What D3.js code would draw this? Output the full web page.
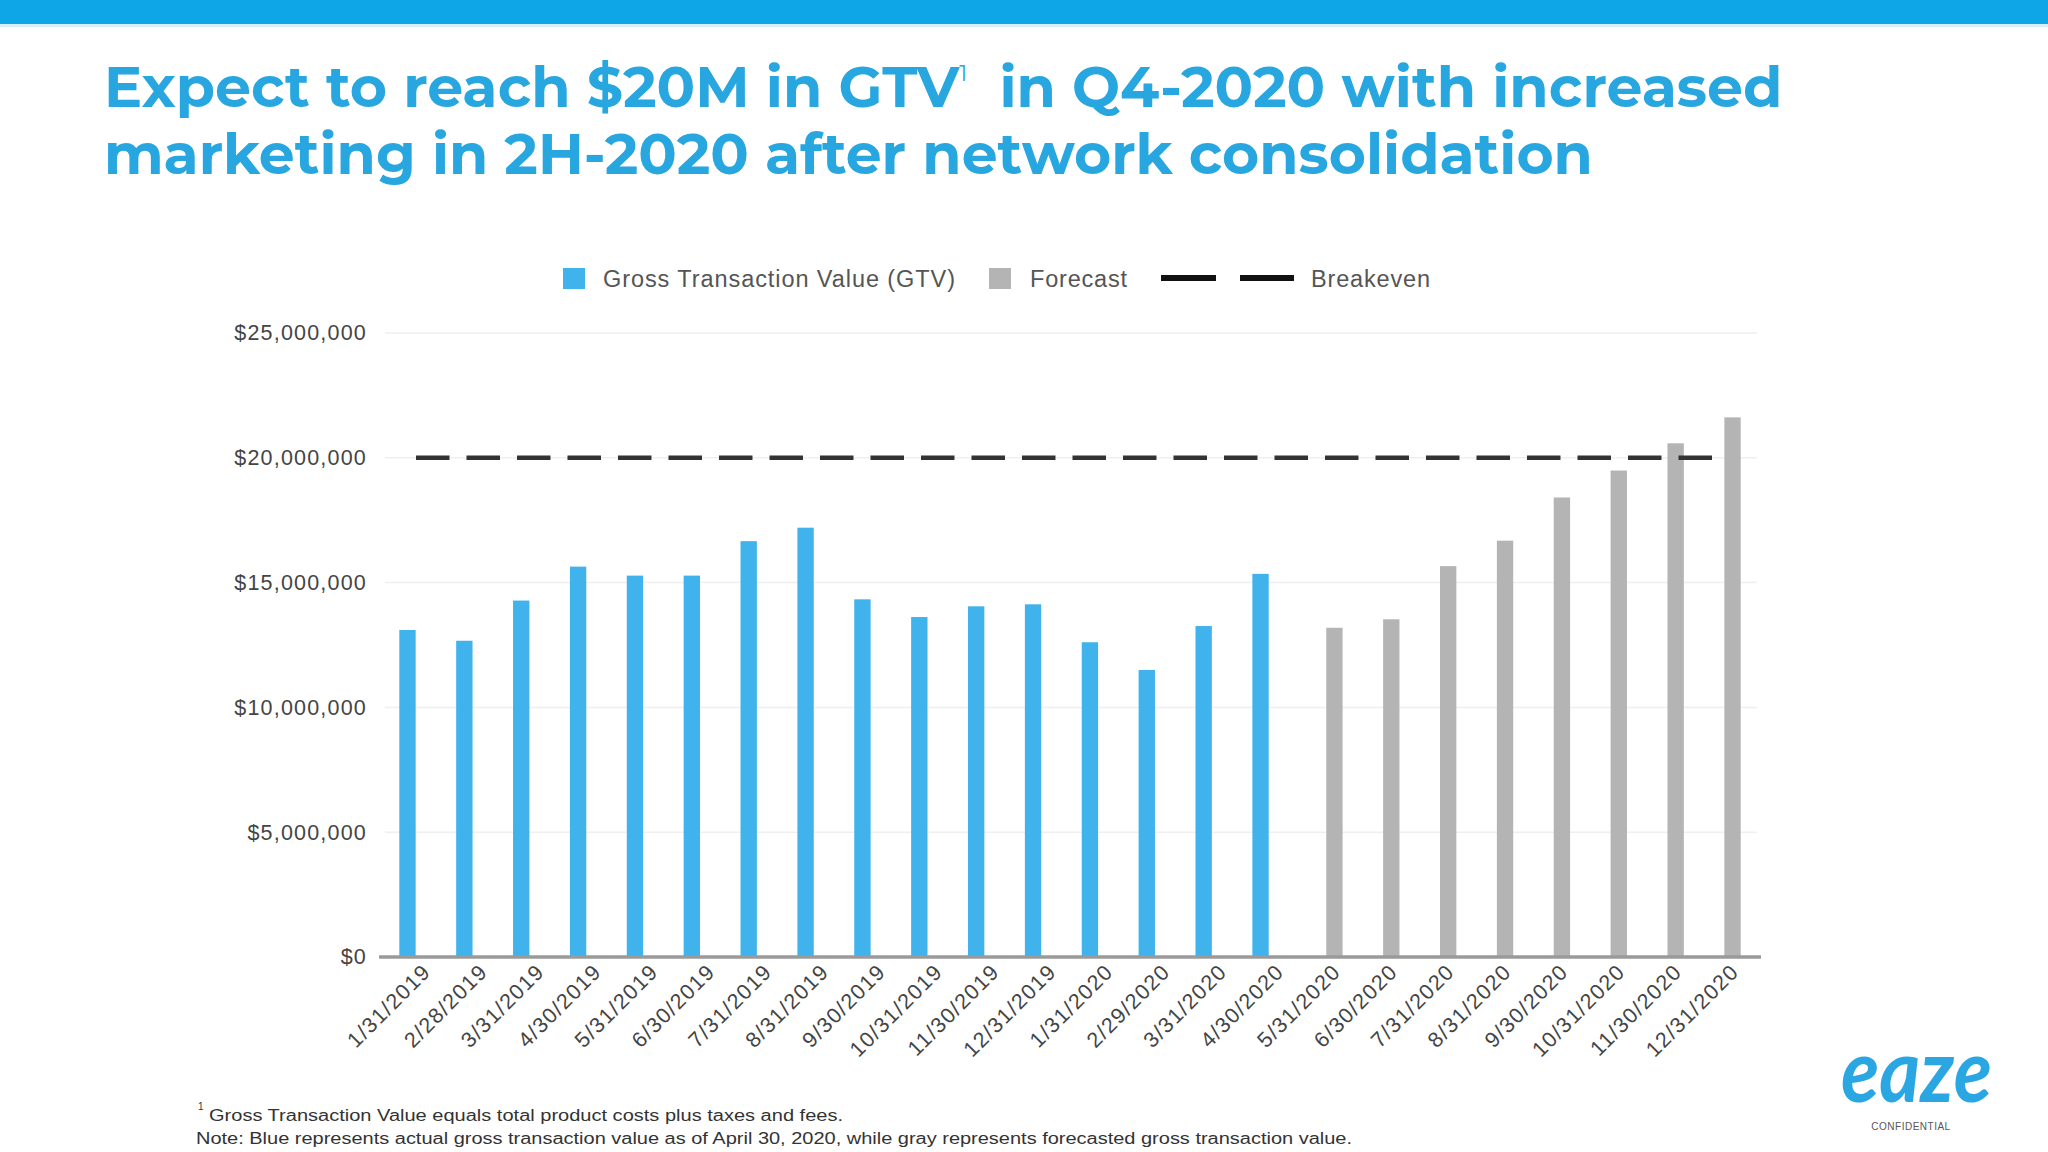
<!DOCTYPE html>
<html>
<head>
<meta charset="utf-8">
<script src="https://cdn.jsdelivr.net/npm/d3@7"></script>
<style>
  html, body { margin: 0; padding: 0; background: #ffffff; }
  svg { display: block; }
</style>
</head>
<body>
<script>
// ---------- DATA ----------
const categories = ["1/31/2019","2/28/2019","3/31/2019","4/30/2019","5/31/2019","6/30/2019","7/31/2019","8/31/2019","9/30/2019","10/31/2019","11/30/2019","12/31/2019","1/31/2020","2/29/2020","3/31/2020","4/30/2020","5/31/2020","6/30/2020","7/31/2020","8/31/2020","9/30/2020","10/31/2020","11/30/2020","12/31/2020"];
const gtvValues = [13100000,12670000,14280000,15640000,15280000,15280000,16660000,17200000,14330000,13620000,14050000,14130000,12610000,11500000,13260000,15350000,null,null,null,null,null,null,null,null];
const forecastValues = [null,null,null,null,null,null,null,null,null,null,null,null,null,null,null,null,13190000,13530000,15660000,16680000,18410000,19490000,20580000,21620000];
const breakevenValues = categories.map(() => 20000000);
const yTicks = [0,5000000,10000000,15000000,20000000,25000000];
const seriesNames = ["Gross Transaction Value (GTV)","Forecast","Breakeven"];
const titleLines = ["Expect to reach $20M in GTV", "  in Q4-2020 with increased", "marketing in 2H-2020 after network consolidation"];
const footnotes = ["Gross Transaction Value equals total product costs plus taxes and fees.", "Note: Blue represents actual gross transaction value as of April 30, 2020, while gray represents forecasted gross transaction value."];

// ---------- SETUP ----------
const W = 2048, H = 1152;
const BLUE = "#40b2ec", GRAY = "#b4b4b4", TITLE = "#27a6df";
const svg = d3.select("body").append("svg").attr("width", W).attr("height", H);

svg.append("rect").attr("x",0).attr("y",0).attr("width",W).attr("height",H).attr("fill","#fff");
// top banner
svg.append("rect").attr("x",0).attr("y",0).attr("width",W).attr("height",24).attr("fill","#0ea6e6");
svg.append("rect").attr("x",0).attr("y",24).attr("width",W).attr("height",3).attr("fill","#d8eef8");

// ---------- TITLE ----------
const tFont = "'Montserrat','Open Sans',sans-serif";
const t1 = svg.append("text").attr("x",104).attr("y",107).attr("fill",TITLE)
  .attr("font-family",tFont).attr("font-weight",700).attr("font-size",56);
t1.append("tspan").text(titleLines[0]);
t1.append("tspan").text("1").attr("font-size",22).attr("dy",-26).attr("font-weight",400);
t1.append("tspan").text(titleLines[1]).attr("dy",26).attr("xml:space","preserve").style("white-space","pre");
const t2 = svg.append("text").attr("x",104).attr("y",174).attr("fill",TITLE)
  .attr("font-family",tFont).attr("font-weight",700).attr("font-size",56)
  .text(titleLines[2]);
function fitWidth(sel, target) {
  const fs = +sel.attr("font-size");
  const w = sel.node().getComputedTextLength();
  sel.attr("font-size", fs * target / w);
}
fitWidth(t1, 1679);
fitWidth(t2, 1489);

// ---------- SCALES ----------
const x0 = d3.scaleBand().domain(categories).range([379,1761]).paddingInner(0.413).paddingOuter(0.357);
const x1 = d3.scaleBand().domain(["gtv","forecast"]).range([0, x0.bandwidth()]).paddingInner(0.04);
const y = d3.scaleLinear().domain([0,25000000]).range([957,333]);

// gridlines
svg.append("g").selectAll("line").data(yTicks.filter(d => d > 0)).join("line")
  .attr("x1",385).attr("x2",1757)
  .attr("y1",d => y(d)).attr("y2",d => y(d))
  .attr("stroke","#efefef").attr("stroke-width",1.5);

// y axis
const yAxis = svg.append("g").attr("transform","translate(367,0)")
  .call(d3.axisLeft(y).tickValues(yTicks).tickSize(0).tickPadding(0)
    .tickFormat(d => "$" + d3.format(",")(d)));
yAxis.select(".domain").remove();
yAxis.selectAll("text").attr("font-family","'Liberation Sans',Arial,sans-serif")
  .attr("font-size",21.5).attr("fill","#444").attr("letter-spacing",1.2);

// bars
const bars = svg.append("g");
bars.selectAll("rect.gtv").data(categories.map((c,i)=>({c, v:gtvValues[i]})).filter(d=>d.v!=null)).join("rect")
  .attr("class","gtv")
  .attr("x", d => x0(d.c) + x1("gtv")).attr("width", x1.bandwidth())
  .attr("y", d => y(d.v)).attr("height", d => y(0) - y(d.v)).attr("fill", BLUE);
bars.selectAll("rect.fc").data(categories.map((c,i)=>({c, v:forecastValues[i]})).filter(d=>d.v!=null)).join("rect")
  .attr("class","fc")
  .attr("x", d => x0(d.c) + x1("forecast")).attr("width", x1.bandwidth())
  .attr("y", d => y(d.v)).attr("height", d => y(0) - y(d.v)).attr("fill", GRAY);

// x axis
const xAxis = svg.append("g").attr("transform","translate(0,957)")
  .call(d3.axisBottom(x0).tickSize(0).tickPadding(0));
xAxis.select(".domain").remove();
svg.append("line").attr("x1",379).attr("x2",1761).attr("y1",957).attr("y2",957)
  .attr("stroke","#9a9a9a").attr("stroke-width",3.5);
xAxis.selectAll(".tick text")
  .attr("font-family","'Liberation Sans',Arial,sans-serif").attr("font-size",21.5).attr("fill","#444")
  .attr("letter-spacing",1.3)
  .attr("text-anchor","end").attr("dy",null).attr("y",null)
  .attr("transform","translate(16,16) rotate(-45)");

// breakeven line
const line = d3.line().x((d,i) => x0(categories[i]) + x0.bandwidth()/2).y(d => y(d));
svg.append("path").attr("d", line(breakevenValues)).attr("fill","none")
  .attr("stroke","#333").attr("stroke-width",4.5).attr("stroke-dasharray","33.5,17");

// ---------- LEGEND ----------
const lg = svg.append("g").attr("font-family","'Liberation Sans',Arial,sans-serif").attr("font-size",23.5).attr("fill","#555");
lg.append("rect").attr("x",563).attr("y",268).attr("width",22).attr("height",21).attr("fill",BLUE);
lg.append("text").attr("x",603).attr("y",287).text(seriesNames[0]).attr("textLength",352).attr("lengthAdjust","spacing");
lg.append("rect").attr("x",989).attr("y",268).attr("width",22).attr("height",21).attr("fill",GRAY);
lg.append("text").attr("x",1030).attr("y",287).text(seriesNames[1]).attr("textLength",97).attr("lengthAdjust","spacing");
lg.append("line").attr("x1",1161).attr("x2",1216).attr("y1",278).attr("y2",278).attr("stroke","#111").attr("stroke-width",6);
lg.append("line").attr("x1",1240).attr("x2",1294).attr("y1",278).attr("y2",278).attr("stroke","#111").attr("stroke-width",6);
lg.append("text").attr("x",1311).attr("y",287).text(seriesNames[2]).attr("textLength",119).attr("lengthAdjust","spacing");

// ---------- FOOTNOTES ----------
const fn = svg.append("g").attr("font-family","'Liberation Sans',Arial,sans-serif").attr("fill","#333");
fn.append("text").attr("x",198).attr("y",1110).attr("font-size",10).text("1");
fn.append("text").attr("x",209).attr("y",1121).attr("font-size",16).text(footnotes[0])
  .attr("textLength",634).attr("lengthAdjust","spacingAndGlyphs");
fn.append("text").attr("x",196).attr("y",1144).attr("font-size",16).text(footnotes[1])
  .attr("textLength",1156).attr("lengthAdjust","spacingAndGlyphs");

// ---------- LOGO ----------
svg.append("text").attr("x",1841).attr("y",1102).attr("font-family","'Lato',sans-serif")
  .attr("font-style","italic").attr("font-weight",700).attr("font-size",88).attr("fill","#2aa7e2")
  .attr("textLength",151).attr("lengthAdjust","spacingAndGlyphs").text("eaze");
svg.append("text").attr("x",1911).attr("y",1130).attr("text-anchor","middle")
  .attr("font-family","'Liberation Sans',Arial,sans-serif").attr("font-size",10).attr("fill","#555")
  .attr("letter-spacing",0.5).text("CONFIDENTIAL");
</script>
</body>
</html>
